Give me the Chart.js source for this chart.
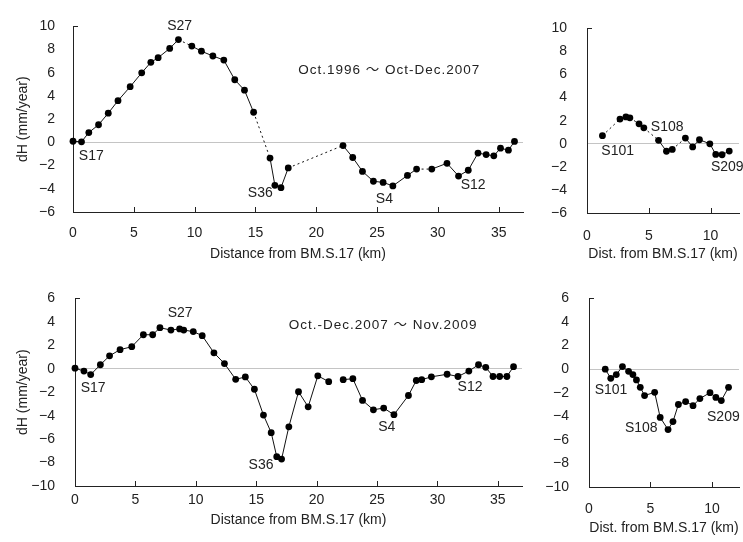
<!DOCTYPE html>
<html>
<head>
<meta charset="utf-8">
<script src="https://cdn.jsdelivr.net/npm/chart.js@4.4.1/dist/chart.umd.min.js"></script>
<style>
  body { margin: 0; background: #fff; width: 743px; height: 542px; position: relative; overflow: hidden; }
  canvas { position: absolute; }
</style>
</head>
<body>
<canvas id="tl" width="530" height="268" style="left:0;top:0"></canvas>
<canvas id="tr" width="213" height="268" style="left:530px;top:0"></canvas>
<canvas id="bl" width="530" height="272" style="left:0;top:270px"></canvas>
<canvas id="br" width="213" height="272" style="left:530px;top:270px"></canvas>
<script>
// Oct.1996 ~ Oct-Dec.2007, Hauptlinie
const tlDist = [0, 0.7, 1.3, 2.1, 2.9, 3.7, 4.7, 5.65, 6.4, 7.0, 7.95, 8.67, 9.77, 10.56, 11.5, 12.4, 13.3, 14.1, 14.85, 16.2,
  16.6, 17.1, 17.7, 22.2, 23.0, 23.8, 24.7, 25.5, 26.3, 27.5, 28.25, 29.5, 30.75, 31.7, 32.5, 33.3, 33.97, 34.6, 35.15, 35.8, 36.3];
const tlDH = [0.1, 0.05, 0.85, 1.52, 2.52, 3.6, 4.8, 6.0, 6.9, 7.3, 8.1, 8.86, 8.3, 7.86, 7.45, 7.1, 5.4, 4.5, 2.6, -1.35,
  -3.7, -3.9, -2.2, -0.27, -1.3, -2.5, -3.35, -3.45, -3.75, -2.85, -2.3, -2.3, -1.8, -2.9, -2.4, -0.92, -1.05, -1.16, -0.5, -0.67, 0.08];
const tlDotted = [11, 18, 22, 30];
const tlNames = ['S17', 'S27', 'S36', 'S4', 'S12'];
const tlNameX = [1.5, 8.77, 15.4, 25.6, 32.9];
const tlNameY = [-1.2, 10.05, -4.4, -4.85, -3.7];

// Oct.1996 ~ Oct-Dec.2007, Nebenlinie
const trDist = [1.25, 2.67, 3.15, 3.47, 4.21, 4.6, 5.79, 6.43, 6.9, 7.96, 8.55, 9.1, 9.94, 10.42, 10.93, 11.51];
const trDH = [0.7, 2.14, 2.33, 2.25, 1.73, 1.38, 0.3, -0.65, -0.49, 0.49, -0.27, 0.35, 0.0, -0.92, -0.95, -0.63];
const trDotted = [0, 3, 5, 8];
const trNames = ['S101', 'S108', 'S209'];
const trNameX = [2.48, 6.49, 11.35];
const trNameY = [-0.63, 1.4, -2.05];

// Oct.-Dec.2007 ~ Nov.2009, Hauptlinie
const blDist = [0, 0.74, 1.3, 2.1, 2.86, 3.73, 4.7, 5.66, 6.43, 7.03, 7.94, 8.66, 9.0, 9.79, 10.53, 11.5, 12.37, 13.3, 14.1, 14.85,
  15.6, 16.24, 16.7, 17.1, 17.7, 18.5, 19.3, 20.1, 21.0, 22.2, 23.0, 23.8, 24.7, 25.55, 26.4, 27.6, 28.25, 28.7, 29.5, 30.8,
  31.7, 32.6, 33.4, 34.0, 34.6, 35.15, 35.75, 36.3];
const blDH = [0.05, -0.2, -0.5, 0.34, 1.1, 1.63, 1.88, 2.9, 2.9, 3.5, 3.3, 3.4, 3.3, 3.17, 2.82, 1.36, 0.44, -0.9, -0.7, -1.75,
  -3.95, -5.45, -7.5, -7.7, -4.95, -1.96, -3.25, -0.6, -1.1, -0.93, -0.85, -2.7, -3.5, -3.35, -3.92, -2.28, -1.0, -0.93, -0.69, -0.47,
  -0.66, -0.2, 0.34, 0.12, -0.66, -0.66, -0.66, 0.18];
const blGaps = [28];
const blNames = ['S17', 'S27', 'S36', 'S4', 'S12'];
const blNameX = [1.5, 8.7, 15.4, 25.8, 32.7];
const blNameY = [-1.62, 4.75, -8.2, -4.96, -1.6];

// Oct.-Dec.2007 ~ Nov.2009, Nebenlinie
const brDist = [1.32, 1.77, 2.22, 2.72, 3.22, 3.57, 3.86, 4.17, 4.52, 5.34, 5.79, 6.43, 6.83, 7.27, 7.86, 8.46, 9.02, 9.84, 10.32, 10.76, 11.35];
const brDH = [0, -0.78, -0.46, 0.22, -0.19, -0.46, -0.92, -1.54, -2.24, -1.97, -4.1, -5.13, -4.45, -3.0, -2.75, -3.1, -2.5, -2.0, -2.4, -2.67, -1.54];
const brNames = ['S101', 'S108', 'S209'];
const brNameX = [1.79, 4.25, 10.93];
const brNameY = [-1.8, -5.0, -4.1];

const topPeriod = 'Oct.1996 ～ Oct-Dec.2007';
const topPeriodX = 26.0, topPeriodY = 6.25;
const botPeriod = 'Oct.-Dec.2007 ～ Nov.2009';
const botPeriodX = 25.5, botPeriodY = 3.75;

Chart.defaults.font.family = "'Liberation Sans', Arial, sans-serif";
Chart.defaults.color = '#222';

function zeichne(id, o) {
  const punkte = o.dist.map((x, i) => ({ x, y: o.dh[i] }));
  const dotted = o.dotted || [];
  const gaps = o.gaps || [];

  new Chart(document.getElementById(id), {
    type: 'scatter',
    data: {
      datasets: [{
        data: punkte,
        showLine: true,
        borderColor: '#111',
        borderWidth: 1,
        pointRadius: 3.4,
        pointBackgroundColor: '#000',
        pointBorderWidth: 0,
        clip: false,
        segment: {
          borderDash: c => dotted.includes(c.p0DataIndex) ? [2, 3] : undefined,
          borderColor: c => gaps.includes(c.p0DataIndex) ? 'rgba(0,0,0,0)' : undefined
        }
      }]
    },
    options: {
      responsive: false,
      animation: false,
      events: [],
      layout: { padding: { top: o.padTop, right: o.padRight, left: 0, bottom: 0 } },
      plugins: { legend: { display: false }, tooltip: { enabled: false } },
      scales: {
        x: {
          type: 'linear',
          min: o.xMin,
          max: o.xMax,
          ticks: { stepSize: 5, includeBounds: false, padding: o.xTickPad, maxRotation: 0, font: { size: 14 } },
          grid: { display: false, drawTicks: false },
          border: { color: '#222', width: 1 },
          title: { display: true, text: o.xTitle, font: { size: 14 }, padding: { top: 0, bottom: o.xTitlePad } },
          afterFit: s => { s.height = o.xHeight; }
        },
        y: {
          min: o.yMin,
          max: o.yMax,
          ticks: {
            stepSize: 2,
            padding: o.yTickPad,
            font: { size: 14 },
            callback: v => String(v).replace('-', '−')
          },
          grid: {
            drawTicks: false,
            color: c => c.tick && c.tick.value === 0 ? '#c4c4c4' : 'rgba(0,0,0,0)'
          },
          border: { color: '#222', width: 1 },
          title: { display: !!o.yTitle, text: o.yTitle || '', font: { size: 14 }, padding: { top: 15, bottom: 0 } },
          afterFit: s => { s.width = o.yWidth; }
        }
      }
    },
    plugins: [{
      id: 'deko',
      afterDatasetsDraw(chart) {
        const ctx = chart.ctx;
        const xs = chart.scales.x, ys = chart.scales.y;
        const area = chart.chartArea;
        ctx.save();
        // Teilstriche nach innen
        ctx.strokeStyle = '#222';
        ctx.lineWidth = 1;
        xs.ticks.forEach(t => {
          if (t.value <= 0) return;
          const px = Math.round(xs.getPixelForValue(t.value)) + 0.5;
          ctx.beginPath();
          ctx.moveTo(px, area.bottom);
          ctx.lineTo(px, area.bottom - 5);
          ctx.stroke();
        });
        const yTop = Math.round(ys.getPixelForValue(o.yMax)) + 0.5;
        ctx.beginPath();
        ctx.moveTo(area.left, yTop);
        ctx.lineTo(area.left + 5, yTop);
        ctx.stroke();

        // Stationsnamen
        ctx.fillStyle = '#222';
        ctx.textAlign = 'center';
        ctx.textBaseline = 'middle';
        ctx.font = "14px 'Liberation Sans', Arial, sans-serif";
        o.names.forEach((n, i) => {
          ctx.fillText(n, xs.getPixelForValue(o.nameX[i]), ys.getPixelForValue(o.nameY[i]));
        });
        if (o.period) {
          ctx.font = "13.5px 'Liberation Sans', 'Noto Sans CJK JP', sans-serif";
          ctx.letterSpacing = '1px';
          ctx.fillText(o.period, xs.getPixelForValue(o.periodX), ys.getPixelForValue(o.periodY));
        }
        ctx.restore();
      }
    }]
  });
}

zeichne('tl', {
  dist: tlDist, dh: tlDH, dotted: tlDotted,
  names: tlNames, nameX: tlNameX, nameY: tlNameY,
  period: topPeriod, periodX: topPeriodX, periodY: topPeriodY,
  xMin: 0, xMax: 37, yMin: -6, yMax: 10,
  xTitle: 'Distance from BM.S.17 (km)', yTitle: 'dH (mm/year)',
  padTop: 15, padRight: 7, yWidth: 73, xHeight: 56,
  xTickPad: 13, xTitlePad: 5, yTickPad: 18
});

zeichne('tr', {
  dist: trDist, dh: trDH, dotted: trDotted,
  names: trNames, nameX: trNameX, nameY: trNameY,
  xMin: 0, xMax: 12.3, yMin: -6, yMax: 10,
  xTitle: 'Dist. from BM.S.17 (km)',
  padTop: 15, padRight: 1, yWidth: 57, xHeight: 55,
  xTickPad: 15, xTitlePad: 5, yTickPad: 20
});

zeichne('bl', {
  dist: blDist, dh: blDH, gaps: blGaps,
  names: blNames, nameX: blNameX, nameY: blNameY,
  period: botPeriod, periodX: botPeriodX, periodY: botPeriodY,
  xMin: 0, xMax: 37, yMin: -10, yMax: 6,
  xTitle: 'Distance from BM.S.17 (km)', yTitle: 'dH (mm/year)',
  padTop: 18, padRight: 8, yWidth: 75, xHeight: 56,
  xTickPad: 6, xTitlePad: 13, yTickPad: 20
});

zeichne('br', {
  dist: brDist, dh: brDH,
  names: brNames, nameX: brNameX, nameY: brNameY,
  xMin: 0, xMax: 12.2, yMin: -10, yMax: 6,
  xTitle: 'Dist. from BM.S.17 (km)',
  padTop: 18, padRight: 1, yWidth: 59, xHeight: 55,
  xTickPad: 14, xTitlePad: 5, yTickPad: 20
});
</script>
</body>
</html>
